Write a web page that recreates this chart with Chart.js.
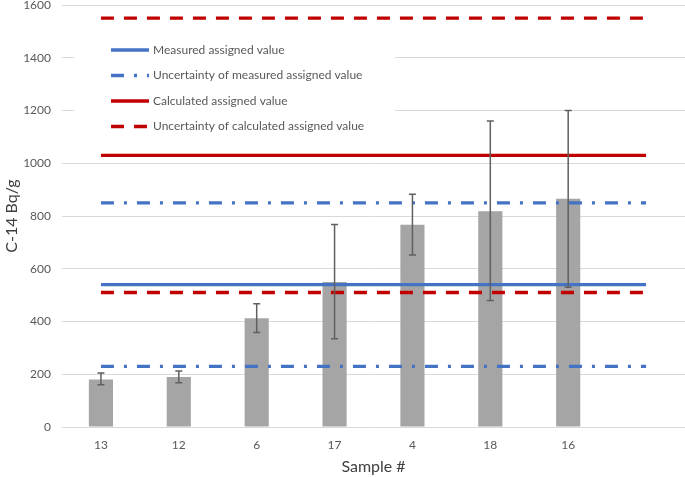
<!DOCTYPE html>
<html>
<head>
<meta charset="utf-8">
<script src="https://cdn.jsdelivr.net/npm/chart.js@4/dist/chart.umd.min.js"></script>
<style>
  html, body { margin: 0; padding: 0; background: #fff; }
  #wrap { width: 685px; height: 477px; }
</style>
</head>
<body>
<div id="wrap"><canvas id="chart" width="685" height="477"></canvas></div>
<script>
// samples along the x axis, last slot is empty so the reference lines run past the bars
const samples = ['13', '12', '6', '17', '4', '18', '16', ''];
const c14Values = [180, 190, 412, 550, 767, 818, 865, null];
const errLow = [160, 168, 358, 335, 652, 480, 530, null];
const errHigh = [205, 212, 467, 768, 882, 1160, 1200, null];

const measuredAssigned = [540, 540, 540, 540, 540, 540, 540, 540];
const measuredUncUpper = [850, 850, 850, 850, 850, 850, 850, 850];
const measuredUncLower = [230, 230, 230, 230, 230, 230, 230, 230];
const calculatedAssigned = [1030, 1030, 1030, 1030, 1030, 1030, 1030, 1030];
const calculatedUncUpper = [1550, 1550, 1550, 1550, 1550, 1550, 1550, 1550];
const calculatedUncLower = [510, 510, 510, 510, 510, 510, 510, 510];

const blue = '#4472c4';
const red = '#c00000';
const textColor = '#595959';
const fontFamily = 'Lato, "Open Sans", sans-serif';

function refLine(label, data, color, dash, inLegend) {
  return {
    type: 'line',
    label: label,
    data: data,
    borderColor: color,
    backgroundColor: color,
    borderWidth: 3.3,
    borderDash: dash,
    pointRadius: 0,
    fill: false,
    order: 1,
    inLegend: inLegend
  };
}

// error bars drawn on top of everything, using the bar positions
const errorBars = {
  id: 'errorBars',
  afterDatasetsDraw(chart) {
    const ctx = chart.ctx;
    const yScale = chart.scales.y;
    const meta = chart.getDatasetMeta(chart.data.datasets.length - 1);
    ctx.save();
    ctx.strokeStyle = '#606060';
    ctx.lineWidth = 1.5;
    meta.data.forEach((bar, i) => {
      if (errLow[i] == null) return;
      const x = bar.x;
      const yl = yScale.getPixelForValue(errLow[i]);
      const yh = yScale.getPixelForValue(errHigh[i]);
      ctx.beginPath();
      ctx.moveTo(x, yl);
      ctx.lineTo(x, yh);
      ctx.moveTo(x - 3.5, yl);
      ctx.lineTo(x + 3.5, yl);
      ctx.moveTo(x - 3.5, yh);
      ctx.lineTo(x + 3.5, yh);
      ctx.stroke();
    });
    ctx.restore();
  }
};

// legend box sitting inside the plot, top left
const insideLegend = {
  id: 'insideLegend',
  beforeDatasetsDraw(chart) {
    const ctx = chart.ctx;
    ctx.save();
    ctx.fillStyle = '#fff';
    ctx.fillRect(74, 36, 321, 104);
    ctx.restore();
  },
  afterDatasetsDraw(chart) {
    const ctx = chart.ctx;
    const items = chart.data.datasets.filter((d) => d.inLegend);
    ctx.save();
    ctx.font = '12px ' + fontFamily;
    ctx.textBaseline = 'middle';
    items.forEach((d, i) => {
      const y = 50 + i * 25.5;
      ctx.strokeStyle = d.borderColor;
      ctx.lineWidth = d.borderWidth;
      ctx.setLineDash(d.borderDash || []);
      ctx.beginPath();
      ctx.moveTo(111, y);
      ctx.lineTo(149, y);
      ctx.stroke();
      ctx.setLineDash([]);
      ctx.fillStyle = textColor;
      ctx.fillText(d.label, 153, y);
    });
    ctx.restore();
  }
};

new Chart(document.getElementById('chart'), {
  data: {
    labels: samples,
    datasets: [
      refLine('Measured assigned value', measuredAssigned, blue, [], true),
      refLine('Uncertainty of measured assigned value', measuredUncUpper, blue, [13, 10, 3, 10], true),
      refLine('Uncertainty of measured assigned value', measuredUncLower, blue, [13, 10, 3, 10], false),
      refLine('Calculated assigned value', calculatedAssigned, red, [], true),
      refLine('Uncertainty of calculated assigned value', calculatedUncUpper, red, [13, 10], true),
      refLine('Uncertainty of calculated assigned value', calculatedUncLower, red, [13, 10], false),
      {
        type: 'bar',
        label: 'C-14',
        data: c14Values,
        backgroundColor: '#a5a5a5',
        categoryPercentage: 1,
        barPercentage: 0.31,
        order: 10
      }
    ]
  },
  options: {
    responsive: false,
    animation: false,
    layout: { padding: 0 },
    plugins: {
      legend: { display: false },
      tooltip: { enabled: false }
    },
    scales: {
      x: {
        grid: { display: false, drawTicks: false },
        border: { display: false },
        ticks: {
          color: textColor,
          padding: 11,
          font: { family: fontFamily, size: 12 },
          maxRotation: 0
        },
        title: {
          display: true,
          text: 'Sample #',
          color: '#404040',
          padding: { top: 4, bottom: 1 },
          font: { family: fontFamily, size: 16 }
        },
        afterFit(scale) { scale.height = 50; }
      },
      y: {
        min: 0,
        max: 1600,
        grid: { color: '#d9d9d9', lineWidth: 1, drawTicks: false },
        border: { display: false },
        ticks: {
          stepSize: 200,
          color: textColor,
          padding: 11,
          font: { family: fontFamily, size: 12 },
          callback: (v) => String(v)
        },
        title: {
          display: true,
          text: 'C-14 Bq/g',
          color: '#404040',
          padding: { top: 2, bottom: 4 },
          font: { family: fontFamily, size: 16 }
        },
        afterFit(scale) {
          scale.width = 62;
          scale.paddingTop = 5;
        }
      }
    }
  },
  plugins: [insideLegend, errorBars]
});
</script>
</body>
</html>
